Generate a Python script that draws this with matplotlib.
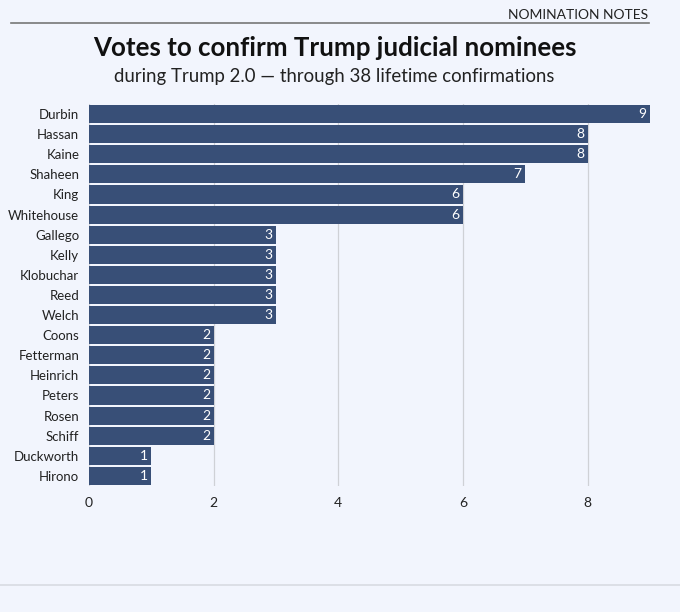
import matplotlib
matplotlib.use("Agg")
import matplotlib.pyplot as plt

senators = ['Durbin', 'Hassan', 'Kaine', 'Shaheen', 'King', 'Whitehouse',
            'Gallego', 'Kelly', 'Klobuchar', 'Reed', 'Welch', 'Coons',
            'Fetterman', 'Heinrich', 'Peters', 'Rosen', 'Schiff',
            'Duckworth', 'Hirono']
votes = [9, 8, 8, 7, 6, 6, 3, 3, 3, 3, 3, 2, 2, 2, 2, 2, 2, 1, 1]
xticks = [0, 2, 4, 6, 8]

bg = '#f2f5fd'
bar_color = '#384f77'

plt.rcParams['font.family'] = ['Lato', 'DejaVu Sans']

fig = plt.figure(figsize=(6.8, 6.12), dpi=100, facecolor=bg)
ax = fig.add_axes([0.1309, 0.206, 0.8250, 0.624])
ax.set_facecolor(bg)

pos = list(range(len(senators)))
ax.barh(pos, votes, height=0.9, color=bar_color, zorder=2)
for p, v in zip(pos, votes):
    ax.text(v - 0.06, p, str(v), ha='right', va='center', color='white',
            fontsize=10, zorder=3)

ax.set_yticks(pos)
ax.set_yticklabels(senators, fontsize=9.5, color='#222222')
ax.set_ylim(len(senators) - 0.5, -0.5)
ax.set_xlim(0, 9)
ax.set_xticks(xticks)
ax.set_xticklabels([str(t) for t in xticks], fontsize=10, color='#222222')
ax.tick_params(length=0, pad=7)
ax.tick_params(axis='x', pad=8)
ax.grid(axis='x', color='#cfd1d6', linewidth=0.9, zorder=0)
for s in ax.spines.values():
    s.set_visible(False)

fig.text(0.953, 0.975, 'NOMINATION NOTES', ha='right', va='center',
         fontsize=10, color='#222222')
fig.add_artist(plt.Line2D([0.016, 0.955], [0.963, 0.963],
                          color='#777777', linewidth=1.2))
fig.text(0.492, 0.921, 'Votes to confirm Trump judicial nominees',
         ha='center', va='center', fontsize=18.6, fontweight='bold',
         color='#111111')
fig.text(0.491, 0.875, 'during Trump 2.0 — through 38 lifetime confirmations',
         ha='center', va='center', fontsize=13.4, color='#222222')
fig.add_artist(plt.Line2D([0, 1], [0.044, 0.044],
                          color='#d8dbe2', linewidth=1.2))

fig.savefig('out.png', dpi=100, facecolor=bg)
